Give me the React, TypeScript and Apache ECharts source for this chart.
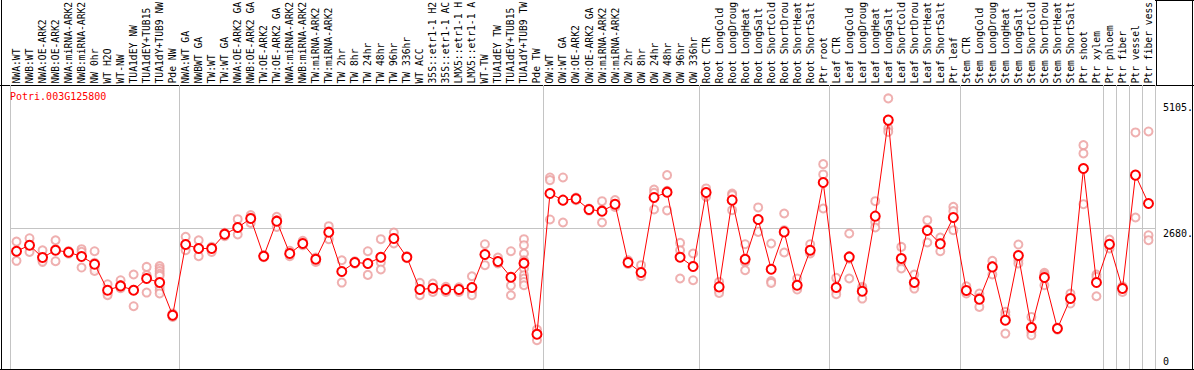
import React, { useEffect, useRef } from "react";
import * as echarts from "echarts";

// category labels as they are visible in the chart header
const categories: string[] = [
  "NWA:WT", "NWB:WT", "NWA:OE-ARK2", "NWB:OE-ARK2", "NWA:miRNA-ARK2", "NWB:miRNA-ARK2",
  "NW 0hr", "WT H2O", "WT-NW", "TUA1dEY NW", "TUA1dEY+TUB15", "TUA1dY+TUB9 NW", "Pde NW",
  "NWA:WT GA", "NWBWT GA", "TW:WT", "TW:WT GA", "NWA:OE-ARK2 GA", "NWB:OE-ARK2 GA",
  "TW:OE-ARK2", "TW:OE-ARK2 GA", "NWA:miRNA-ARK2", "NWB:miRNA-ARK2", "TW:miRNA-ARK2",
  "TW:miRNA-ARK2", "TW 2hr", "TW 8hr", "TW 24hr", "TW 48hr", "TW 96hr", "TW 336hr",
  "WT ACC", "35S::etr1-1 H2", "35S::etr1-1 AC", "LMX5::etr1-1 H", "LMX5::etr1-1 A",
  "WT-TW", "TUA1dEY TW", "TUA1dEY+TUB15", "TUA1dY+TUB9 TW", "Pde TW",
  "OW:WT", "OW:WT GA", "OW:OE-ARK2", "OW:OE-ARK2 GA", "OW:miRNA-ARK2", "OW:miRNA-ARK2",
  "OW 2hr", "OW 8hr", "OW 24hr", "OW 48hr", "OW 96hr", "OW 336hr",
  "Root CTR", "Root LongCold", "Root LongDroug", "Root LongHeat", "Root LongSalt",
  "Root ShortCold", "Root ShortDrou", "Root ShortHeat", "Root ShortSalt", "Ptr root",
  "Leaf CTR", "Leaf LongCold", "Leaf LongDroug", "Leaf LongHeat", "Leaf LongSalt",
  "Leaf ShortCold", "Leaf ShortDrou", "Leaf ShortHeat", "Leaf ShortSalt", "Ptr leaf",
  "Stem CTR", "Stem LongCold", "Stem LongDroug", "Stem LongHeat", "Stem LongSalt",
  "Stem ShortCold", "Stem ShortDrou", "Stem ShortHeat", "Stem ShortSalt", "Ptr shoot",
  "Ptr xylem", "Ptr phloem", "Ptr fiber", "Ptr vessel", "Ptr fiber vess",
];

// indices where a new sample group begins (grey separators)
const groupStarts: number[] = [0, 13, 41, 53, 63, 73, 84, 85, 86, 87];

const meanValues: number[] = [
  2235, 2351, 2113, 2254, 2216, 2133, 1984, 1482, 1565, 1482, 1708, 1631, 999,
  2364, 2287, 2287, 2564, 2693, 2867, 2139, 2815, 2191, 2384, 2081, 2602, 1843, 2017, 1998,
  2119, 2480, 2119, 1495, 1520, 1495, 1495, 1534, 2171, 2036, 1733, 2004, 632,
  3350, 3221, 3246, 3041, 3008, 3143, 2017, 1824, 3272, 3375, 2119, 1940,
  3369, 1546, 3221, 2081, 2848, 1888, 2608, 1578, 2254, 3562,
  1534, 2125, 1463, 2912, 4766, 2094, 1630, 2635, 2377, 2886,
  1476, 1308, 1932, 902, 2152, 761, 1727, 742, 1321, 3833, 1630,
  2370, 1514, 3704, 3157,
];

const replicateValues: number[][] = [
  [2420, 2230, 2050], [2486, 2345, 2222], [2254, 2060, 2030], [2447, 2273, 2042],
  [2240, 2215, 2190], [2274, 2222, 1920], [2235, 2010, 1900, 1855], [1598, 1420, 1385],
  [1675, 1580, 1520], [1785, 1490, 1173], [1932, 1772, 1437],
  [1950, 1900, 1850, 1800, 1760, 1610, 1545, 1480, 1420], [1030, 1000, 965],
  [2512, 2330, 2254], [2447, 2280, 2139], [2318, 2300, 2222], [2589, 2570, 2525],
  [2853, 2680, 2558], [2931, 2880, 2782], [2160, 2140, 2120], [2898, 2830, 2705],
  [2241, 2190, 2139], [2435, 2380, 2351], [2113, 2090, 2029], [2718, 2620, 2467],
  [2061, 1840, 1630], [2040, 2020, 1995], [2235, 1990, 1778], [2467, 2017, 1882],
  [2596, 2470, 2384], [2140, 2120, 2100], [1623, 1490, 1385], [1611, 1510, 1449],
  [1547, 1495, 1449], [1540, 1495, 1450], [1752, 1449, 1385], [2370, 2170, 1965],
  [2113, 2010, 1998], [2235, 1572, 1385],
  [2467, 2351, 2191, 2061, 1901, 1772, 1708, 1642, 1578], [722, 640, 516],
  [3659, 3607, 2848], [3659, 3215, 2789], [3270, 3246, 3220], [3060, 3041, 3020],
  [3201, 3030, 2789], [3221, 3120, 3091], [2060, 2017, 1990], [1965, 1810, 1752],
  [3427, 3362, 3041], [3704, 3400, 3022], [2396, 2254, 1708], [2191, 1950, 1675],
  [3447, 3370, 3285], [1642, 1530, 1482, 1430], [3350, 3317, 3027], [2370, 2029, 1868],
  [3080, 2850, 2608], [2384, 1657, 1623], [2963, 2641, 2210], [1708, 1540, 1495],
  [2370, 2220, 2191], [3916, 3717, 3060],
  [1720, 1480, 1404], [2577, 2090, 1708], [1546, 1520, 1321], [3201, 2801, 2693],
  [5185, 4606, 4540], [2318, 2029, 1901], [1785, 1578, 1514], [2834, 2660, 2403],
  [2500, 2390, 2235], [3091, 3008, 2641],
  [1559, 1460, 1418], [1418, 1340, 1159], [2048, 1950, 1785], [1063, 999, 645],
  [2364, 2061, 1998], [966, 676, 612], [1816, 1780, 1578], [760, 740, 720],
  [1418, 1320, 1225], [4283, 4123, 3143], [1785, 1739, 1366],
  [2461, 2351, 2287], [1559, 1530, 1449], [4528, 3700, 2886], [4547, 2544, 2448],
];

const upperTickLabels: number[] = [2680, 5105];
const zeroTickLabel: number[] = [0];
const gridLineValue = 2680;
const geneTitle = "Potri.003G125800";

const Y_MIN = -39;
const Y_MAX = 5444;

const MONO = "'DejaVu Sans Mono', 'Liberation Mono', monospace";
const SEP = "#c4c4c4";

export default function App() {
  const ref = useRef<HTMLDivElement>(null);

  useEffect(() => {
    if (!ref.current) return;
    const chart = echarts.init(ref.current, undefined, { renderer: "svg" });
    const isBoundary = (idx: number) => groupStarts.indexOf(idx) >= 0;

    const repData: [number, number][] = [];
    replicateValues.forEach((arr, i) => arr.forEach((v) => repData.push([i, v])));

    const yAxisBase = {
      type: "value",
      position: "right",
      min: Y_MIN,
      max: Y_MAX,
      axisLine: { show: false },
      axisTick: { show: false },
      splitLine: { show: false },
    };

    chart.setOption({
      animation: false,
      title: {
        text: geneTitle,
        left: 10,
        top: 91,
        padding: 0,
        textStyle: { color: "#ff0000", fontSize: 10, fontWeight: "normal", fontFamily: MONO },
      },
      grid: {
        left: 10,
        right: 39,
        top: 85,
        bottom: 1,
        containLabel: false,
        outerBoundsMode: "none",
      },
      xAxis: {
        type: "category",
        data: categories,
        position: "top",
        boundaryGap: true,
        axisLine: { show: false },
        axisTick: { show: true, interval: isBoundary, length: 85, lineStyle: { color: SEP, width: 1 } },
        axisLabel: {
          interval: 0,
          rotate: 90,
          margin: 1.5,
          fontSize: 9.7,
          fontFamily: MONO,
          color: "#000",
          hideOverlap: false,
        },
        splitLine: { show: true, interval: isBoundary, lineStyle: { color: SEP, width: 1 } },
      },
      yAxis: [
        {
          ...yAxisBase,
          axisLabel: {
            customValues: upperTickLabels,
            formatter: (v: number) => `${v}.`,
            verticalAlign: "top",
            margin: 8,
            fontSize: 10,
            fontFamily: MONO,
            color: "#000",
          },
        },
        {
          ...yAxisBase,
          axisLabel: {
            customValues: zeroTickLabel,
            formatter: (v: number) => `${v}`,
            verticalAlign: "bottom",
            margin: 8,
            fontSize: 10,
            fontFamily: MONO,
            color: "#000",
          },
        },
      ],
      graphic: [
        { type: "line", shape: { x1: 1.5, y1: 0, x2: 1.5, y2: 370 }, style: { stroke: "#000", lineWidth: 1 } },
        { type: "line", shape: { x1: 1192.5, y1: 0, x2: 1192.5, y2: 370 }, style: { stroke: "#000", lineWidth: 1 } },
        { type: "line", shape: { x1: 0, y1: 85.5, x2: 1194, y2: 85.5 }, style: { stroke: "#000", lineWidth: 1 } },
        { type: "line", shape: { x1: 0, y1: 369.5, x2: 1194, y2: 369.5 }, style: { stroke: "#000", lineWidth: 1 } },
        { type: "line", shape: { x1: 1155, y1: 0.5, x2: 1194, y2: 0.5 }, style: { stroke: "#000", lineWidth: 1 } },
        { type: "line", shape: { x1: 1156.5, y1: 0, x2: 1156.5, y2: 85 }, style: { stroke: "#000", lineWidth: 1 } },
      ],
      series: [
        {
          type: "scatter",
          name: "replicates",
          data: repData,
          symbol: "emptyCircle",
          symbolSize: 8,
          z: 2,
          itemStyle: { color: "#eb9c9c", borderColor: "#eb9c9c", borderWidth: 1.1 },
          markLine: {
            silent: true,
            symbol: ["none", "none"],
            label: { show: false },
            lineStyle: { color: SEP, type: "solid", width: 1 },
            data: [{ yAxis: gridLineValue }],
            z: 1,
          },
        },
        {
          type: "line",
          name: "mean",
          data: meanValues,
          symbol: "emptyCircle",
          symbolSize: 9,
          z: 3,
          lineStyle: { color: "#ff0000", width: 1 },
          itemStyle: { color: "#ff0000", borderColor: "#ff0000", borderWidth: 1.4 },
        },
      ],
    });
    return () => chart.dispose();
  }, []);

  return (
    <div
      ref={ref}
      style={{ position: "fixed", left: 0, top: 0, width: 1194, height: 370, background: "#fff" }}
    />
  );
}
